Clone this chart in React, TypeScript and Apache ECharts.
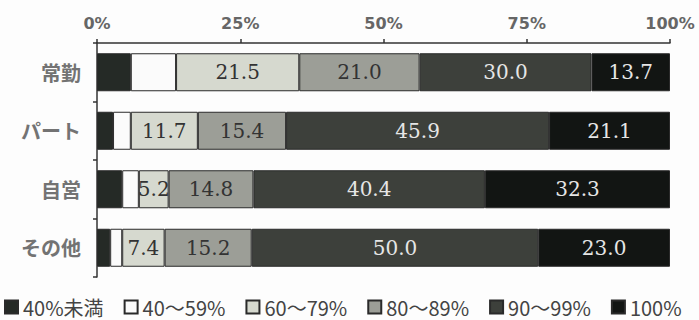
import React, { useEffect, useRef } from "react";
import * as echarts from "echarts";

const categories = ["常勤", "パート", "自営", "その他"];
const seriesNames = ["40%未満", "40〜59%", "60〜79%", "80〜89%", "90〜99%", "100%"];
const under40 = [5.9, 2.8, 4.4, 2.3];
const r40to59 = [7.9, 3.1, 2.9, 2.1];
const r60to79 = [21.5, 11.7, 5.2, 7.4];
const r80to89 = [21.0, 15.4, 14.8, 15.2];
const r90to99 = [30.0, 45.9, 40.4, 50.0];
const r100 = [13.7, 21.1, 32.3, 23.0];
const xTicks = [0, 25, 50, 75, 100];

const colors = ["#252a26", "#fbfbfb", "#d6d9cf", "#9c9e97", "#3d403b", "#121513"];
const labelColors = ["#eee", "#333", "#333", "#333", "#e6e6e6", "#e6e6e6"];
const showLabels = [false, false, true, true, true, true];

export default function App() {
  const ref = useRef<HTMLDivElement>(null);
  useEffect(() => {
    if (!ref.current) return;
    const chart = echarts.init(ref.current, null, { renderer: "svg" });
    const data = [under40, r40to59, r60to79, r80to89, r90to99, r100];
    chart.setOption({
      animation: false,
      backgroundColor: "#fdfdfd",
      grid: { left: 97, right: 29, top: 43, bottom: 43 },
      legend: {
        data: seriesNames,
        left: 4,
        top: 296,
        padding: 0,
        itemWidth: 13,
        itemHeight: 13,
        itemGap: 20,
        icon: "rect",
        textStyle: { fontSize: 20, color: "#444", fontFamily: "Noto Sans CJK JP", lineHeight: 22 },
      },
      xAxis: {
        type: "value",
        position: "top",
        min: xTicks[0],
        max: xTicks[xTicks.length - 1],
        interval: 25,
        axisLine: { show: true, lineStyle: { color: "#333", width: 1.5 } },
        axisTick: { show: true, length: 4, lineStyle: { color: "#333", width: 1.5 } },
        splitLine: { show: false },
        axisLabel: {
          formatter: "{value}%",
          fontSize: 16,
          fontWeight: "bold",
          color: "#666",
          fontFamily: "DejaVu Sans",
          margin: 12,
        },
      },
      yAxis: {
        type: "category",
        data: categories,
        inverse: true,
        axisLine: { show: true, lineStyle: { color: "#333", width: 1.5 } },
        axisTick: { show: true, length: 4, lineStyle: { color: "#333", width: 1.5 } },
        axisLabel: {
          fontSize: 20,
          fontWeight: "bold",
          color: "#737373",
          fontFamily: "Noto Sans CJK JP",
          margin: 16,
        },
      },
      series: seriesNames.map((name, i) => ({
        name,
        type: "bar",
        stack: "total",
        barWidth: 38,
        data: data[i],
        itemStyle: { color: colors[i], borderColor: "#2a2a2a", borderWidth: 1 },
        label: {
          show: showLabels[i],
          position: "inside",
          formatter: (p: any) => Number(p.value).toFixed(1),
          fontFamily: "DejaVu Serif",
          fontSize: 20,
          color: labelColors[i],
        },
      })),
    });
    return () => chart.dispose();
  }, []);
  return <div ref={ref} style={{ width: 699, height: 320, position: "absolute", left: 0, top: 0 }} />;
}
